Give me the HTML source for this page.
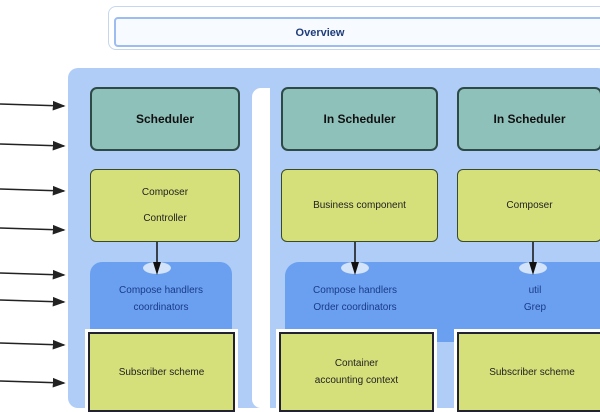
<!DOCTYPE html>
<html><head><style>
body{margin:0;width:600px;height:400px;overflow:hidden;background:#fff;font-family:"Liberation Sans",sans-serif;position:relative}
div{position:absolute;box-sizing:border-box}
.t{background:#8fc1bb;border:2px solid #2e4a46;border-radius:7px;display:flex;align-items:center;justify-content:center;font-weight:bold;font-size:12px;color:#111}
.y{background:#d6e07a;border:1.5px solid #3a4a2a;border-radius:6px;display:flex;flex-direction:column;align-items:center;justify-content:center;font-size:10px;color:#222;line-height:26px}
.b{background:#6aa0ef;color:#1b3a8a;font-size:10px;text-align:center;line-height:17px}
.yb{background:#d6e07a;border:2px solid #223;outline:3px solid #fff;display:flex;flex-direction:column;align-items:center;justify-content:center;font-size:10px;color:#222;line-height:17px}
</style></head><body>
<div style="left:108px;top:6px;width:500px;height:44px;border:1.5px solid #c7d6ee;border-radius:8px;background:#fff"></div>
<div style="left:114px;top:17px;width:490px;height:30px;border:2px solid #9dbcf0;border-radius:4px;background:#f7faff;"></div>
<div style="left:250px;top:27px;width:140px;text-align:center;font-size:11px;font-weight:bold;color:#1e3d7a">Overview</div>
<div style="left:68px;top:68px;width:540px;height:340px;background:#afcdf6;border-radius:10px"></div>
<div style="left:252px;top:88px;width:18px;height:320px;background:#fff;border-radius:9px 0 0 9px"></div>
<div class="t" style="left:90px;top:87px;width:150px;height:64px">Scheduler</div>
<div class="t" style="left:281px;top:87px;width:157px;height:64px">In Scheduler</div>
<div class="t" style="left:457px;top:87px;width:145px;height:64px">In Scheduler</div>
<div class="y" style="left:90px;top:169px;width:150px;height:73px"><span>Composer</span><span>Controller</span></div>
<div class="y" style="left:281px;top:169px;width:157px;height:73px"><span>Business component</span></div>
<div class="y" style="left:457px;top:169px;width:145px;height:73px"><span>Composer</span></div>
<div class="b" style="left:90px;top:262px;width:142px;height:80px;border-radius:12px 12px 0 0;padding-top:20px">Compose handlers<br>coordinators</div>
<div class="b" style="left:285px;top:262px;width:320px;height:80px;border-radius:14px 0 0 0;padding-top:20px"><span style="position:absolute;left:0;width:140px;top:20px">Compose handlers<br>Order coordinators</span><span style="position:absolute;left:210px;width:80px;top:20px">util<br>Grep</span></div>
<svg style="position:absolute;left:0;top:0" width="600" height="400">
<defs><marker id="a" markerWidth="8" markerHeight="8" refX="7" refY="4" orient="auto"><path d="M0,1L8,4L0,7z" fill="#222"/></marker></defs>
<g stroke="#222" stroke-width="1.6" marker-end="url(#a)">
<line x1="0" y1="104" x2="64" y2="106"/><line x1="0" y1="144" x2="64" y2="146"/><line x1="0" y1="189" x2="64" y2="191"/><line x1="0" y1="228" x2="64" y2="230"/><line x1="0" y1="273" x2="64" y2="275"/><line x1="0" y1="300" x2="64" y2="302"/><line x1="0" y1="343" x2="64" y2="345"/><line x1="0" y1="381" x2="64" y2="383"/>
</g>
<g fill="#fff" opacity=".7"><ellipse cx="157" cy="268" rx="14" ry="6"/><ellipse cx="355" cy="268" rx="14" ry="6"/><ellipse cx="533" cy="268" rx="14" ry="6"/></g>
<g stroke="#111" stroke-width="1.5"><line x1="157" y1="242" x2="157" y2="268"/><line x1="355" y1="242" x2="355" y2="268"/><line x1="533" y1="242" x2="533" y2="268"/></g>
<g fill="#111"><path d="M153,262L161,262L157,275z"/><path d="M351,262L359,262L355,275z"/><path d="M529,262L537,262L533,275z"/></g>
</svg>
<div class="yb" style="left:88px;top:332px;width:147px;height:80px">Subscriber scheme</div>
<div class="yb" style="left:279px;top:332px;width:155px;height:80px"><span>Container</span><span>accounting context</span></div>
<div class="yb" style="left:457px;top:332px;width:150px;height:80px">Subscriber scheme</div>
</body></html>
